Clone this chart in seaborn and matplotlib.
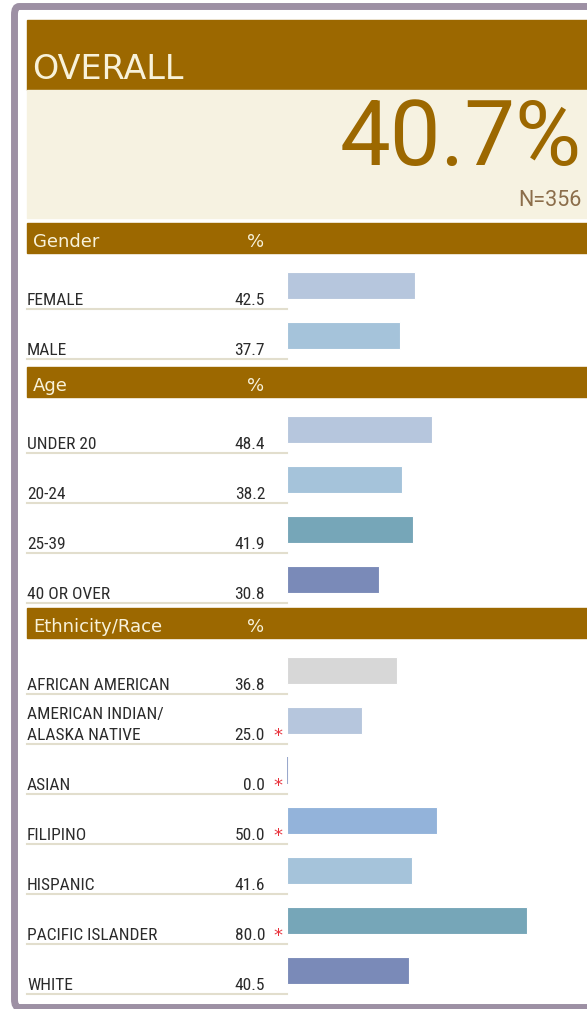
import matplotlib
matplotlib.use('Agg')
import matplotlib.pyplot as plt
import seaborn as sns
from matplotlib.patches import Rectangle, FancyBboxPatch
from matplotlib.lines import Line2D
from matplotlib import font_manager as fm

# ---- data ----
overall_pct = '40.7%'
overall_n = 'N=356'

gender_labels = ['FEMALE', 'MALE']
gender_values = [42.5, 37.7]
gender_flags = [False, False]
gender_colors = ['#b6c6dd', '#a5c3da']

age_labels = ['UNDER 20', '20-24', '25-39', '40 OR OVER']
age_values = [48.4, 38.2, 41.9, 30.8]
age_flags = [False, False, False, False]
age_colors = ['#b6c6dd', '#a5c3da', '#76a6b8', '#7a8ab8']

eth_labels = ['AFRICAN AMERICAN', 'AMERICAN INDIAN/\nALASKA NATIVE', 'ASIAN', 'FILIPINO',
              'HISPANIC', 'PACIFIC ISLANDER', 'WHITE']
eth_values = [36.8, 25.0, 0.0, 50.0, 41.6, 80.0, 40.5]
eth_flags = [False, True, True, True, False, True, False]
eth_colors = ['#d7d7d7', '#b6c6dd', '#9aa8cc', '#93b3da', '#a5c3da', '#76a6b8', '#7a8ab8']

BROWN = '#9c6800'
CREAM = '#f6f2e1'
HEAD_TXT = '#f8f2da'
LINE = '#e2decd'
TXT = '#2b2b2b'

W, H = 587, 1009
ROW = 50


def fx(x):
    return x / W


def fy(y):
    return 1 - y / H


# narrow font for row labels, whichever is installed
names = {f.name for f in fm.fontManager.ttflist}
narrow = next((n for n in ['Liberation Sans Narrow', 'Roboto Condensed', 'DejaVu Sans Condensed']
               if n in names), 'Liberation Sans')

fig = plt.figure(figsize=(W / 100, H / 100), dpi=100, facecolor='white')

# outer frame
fig.patches.append(FancyBboxPatch((fx(14.5), fy(1007.5)), fx(640) - fx(14.5), (1007.5 - 6.5) / H,
                                  boxstyle='round,pad=0,rounding_size=0.008',
                                  transform=fig.transFigure, fc='white', ec='#9d90a4', lw=5,
                                  zorder=-2))

# overall block
fig.patches.append(Rectangle((fx(27), fy(90)), 1, 70 / H, transform=fig.transFigure,
                             color=BROWN, zorder=1))
fig.patches.append(Rectangle((fx(27), fy(218)), 1, 128 / H, transform=fig.transFigure,
                             color=CREAM, zorder=1))
fig.text(fx(32), fy(79), 'OVERALL', color=HEAD_TXT, fontsize=24, family='DejaVu Sans')
fig.text(fx(582), fy(165), overall_pct, color=BROWN, fontsize=65, family='Roboto', ha='right')
fig.text(fx(582), fy(206), overall_n, color='#8b6d4a', fontsize=15.5, family='Roboto', ha='right')


def draw_section(title, top, labels, values, colors, flags):
    n = len(labels)
    fig.patches.append(Rectangle((fx(27), fy(top + 30)), 1, 30 / H, transform=fig.transFigure,
                                 color=BROWN, zorder=1))
    fig.text(fx(33), fy(top + 24), title, color=HEAD_TXT, fontsize=13, family='DejaVu Sans')
    fig.text(fx(256), fy(top + 24), '%', color=HEAD_TXT, fontsize=13, family='DejaVu Sans',
             ha='center')

    rows_top = top + 35
    ax = fig.add_axes([fx(287), fy(rows_top + n * ROW + 2), 1 - fx(287), n * ROW / H])
    ax.patch.set_alpha(0)
    sns.barplot(x=values, y=labels, hue=labels, palette=colors, legend=False, orient='h',
                width=0.54, saturation=1, ax=ax, edgecolor='white', linewidth=0.8)
    # a 0% bar still shows as a thin line
    for cont, v, c in zip(ax.containers, values, colors):
        if v == 0:
            for p in cont.patches:
                p.set_edgecolor(c)
                p.set_linewidth(1.5)
    ax.set_xlim(0, 100)
    ax.set_ylim(n - 0.5, -0.5)
    ax.axis('off')

    for i, (lab, v, flag) in enumerate(zip(labels, values, flags)):
        base = rows_top + (i + 1) * ROW
        lines = lab.split('\n')
        for k, line in enumerate(reversed(lines)):
            fig.text(fx(27), fy(base - 3 - 21 * k), line, color=TXT, fontsize=12.5, family=narrow)
        fig.text(fx(265), fy(base - 3), f'{v:.1f}', color=TXT, fontsize=12.5, family=narrow,
                 ha='right')
        if flag:
            fig.text(fx(278), fy(base - 7), '*', color='#e8303a', fontsize=13,
                     family='DejaVu Sans', ha='center', va='center')
        fig.lines.append(Line2D([fx(27), fx(287)], [fy(base + 1), fy(base + 1)],
                                transform=fig.transFigure, color=LINE, lw=1.5))


draw_section('Gender', 223, gender_labels, gender_values, gender_colors, gender_flags)
draw_section('Age', 367, age_labels, age_values, age_colors, age_flags)
draw_section('Ethnicity/Race', 608, eth_labels, eth_values, eth_colors, eth_flags)

fig.savefig('out.png', dpi=100, facecolor='white')
